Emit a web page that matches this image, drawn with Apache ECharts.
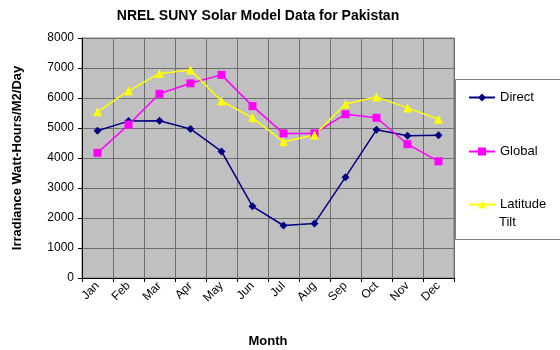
<!DOCTYPE html>
<html>
<head>
<meta charset="utf-8">
<script src="https://cdn.jsdelivr.net/npm/echarts@6/dist/echarts.min.js"></script>
<style>
  html, body { margin: 0; padding: 0; background: #ffffff; }
  #chart { width: 560px; height: 350px; }
</style>
</head>
<body>
<div id="chart"></div>
<script>
// Monthly irradiance, Watt-Hours/M2/Day
const months = ['Jan', 'Feb', 'Mar', 'Apr', 'May', 'Jun', 'Jul', 'Aug', 'Sep', 'Oct', 'Nov', 'Dec'];
const direct = [4910, 5230, 5240, 4970, 4220, 2390, 1750, 1820, 3360, 4940, 4740, 4760];
const globalIrr = [4170, 5110, 6140, 6490, 6770, 5730, 4820, 4820, 5460, 5340, 4460, 3890];
const latitudeTilt = [5540, 6240, 6820, 6930, 5900, 5340, 4540, 4770, 5800, 6030, 5670, 5290];
const yTicks = [0, 1000, 2000, 3000, 4000, 5000, 6000, 7000, 8000];

const FONT = 'Liberation Sans, Arial, sans-serif';

const chart = echarts.init(document.getElementById('chart'), null, { renderer: 'canvas' });

function legendFor(name, top, extra) {
  return Object.assign({
    data: [name],
    orient: 'vertical',
    left: 468,
    top: top,
    itemWidth: 26,
    itemHeight: 10,
    itemGap: 0,
    padding: 0,
    selectedMode: false,
    textStyle: { fontFamily: FONT, fontSize: 13, color: '#000' }
  }, extra || {});
}

chart.setOption({
  animation: false,
  backgroundColor: '#ffffff',
  title: {
    text: 'NREL SUNY Solar Model Data for Pakistan',
    left: 253,
    textAlign: 'center',
    top: 4,
    textStyle: { fontFamily: FONT, fontSize: 14, fontWeight: 'bold', color: '#000' }
  },
  legend: [
    legendFor('Direct', 91),
    legendFor('Global', 145),
    // first line of the wrapped name sits beside the marker; second line is drawn below
    legendFor('Latitude Tilt', 198, {
      formatter: function () { return 'Latitude'; }
    })
  ],
  graphic: [
    {
      type: 'rect',
      shape: { x: 455.5, y: 79.5, width: 110, height: 160 },
      style: { fill: 'none', stroke: '#808080', lineWidth: 1 },
      z: -1
    },
    {
      type: 'text',
      left: 499,
      top: 216,
      style: { text: 'Tilt', font: '13px ' + FONT, fill: '#000' }
    }
  ],
  grid: {
    left: 82, top: 38, width: 372, height: 240,
    outerBoundsMode: 'none',
    show: true, backgroundColor: '#c0c0c0', borderColor: '#808080', borderWidth: 1
  },
  xAxis: {
    type: 'category',
    data: months,
    boundaryGap: true,
    name: 'Month',
    nameLocation: 'middle',
    nameGap: 57,
    nameTextStyle: { fontFamily: FONT, fontSize: 13, fontWeight: 'bold', color: '#000' },
    axisLine: { lineStyle: { color: '#000', width: 1 } },
    axisTick: { show: true, length: 4, lineStyle: { color: '#000' } },
    axisLabel: { rotate: 45, fontFamily: FONT, fontSize: 12, color: '#000', margin: 6 },
    splitLine: { show: true, lineStyle: { color: '#6e6e6e', width: 1 } }
  },
  yAxis: {
    type: 'value',
    min: 0,
    max: 8000,
    interval: 1000,
    name: 'Irradiance Watt-Hours/M2/Day',
    nameLocation: 'middle',
    nameGap: 58,
    nameTextStyle: { fontFamily: FONT, fontSize: 13, fontWeight: 'bold', color: '#000' },
    axisLine: { show: true, lineStyle: { color: '#000', width: 1 } },
    axisTick: { show: true, length: 4, lineStyle: { color: '#000' } },
    axisLabel: {
      fontFamily: FONT, fontSize: 12, color: '#000', margin: 8,
      formatter: function (v) { return yTicks.indexOf(v) >= 0 ? String(v) : ''; }
    },
    splitLine: { show: true, lineStyle: { color: '#6e6e6e', width: 1 } }
  },
  series: [
    {
      name: 'Direct', type: 'line', data: direct,
      symbol: 'diamond', symbolSize: 8,
      lineStyle: { color: '#000080', width: 1.5 },
      itemStyle: { color: '#000080' }
    },
    {
      name: 'Global', type: 'line', data: globalIrr,
      symbol: 'rect', symbolSize: 8,
      lineStyle: { color: '#ff00ff', width: 1.5 },
      itemStyle: { color: '#ff00ff' }
    },
    {
      name: 'Latitude Tilt', type: 'line', data: latitudeTilt,
      symbol: 'triangle', symbolSize: 9,
      lineStyle: { color: '#ffff00', width: 1.5 },
      itemStyle: { color: '#ffff00' }
    }
  ]
});
</script>
</body>
</html>
